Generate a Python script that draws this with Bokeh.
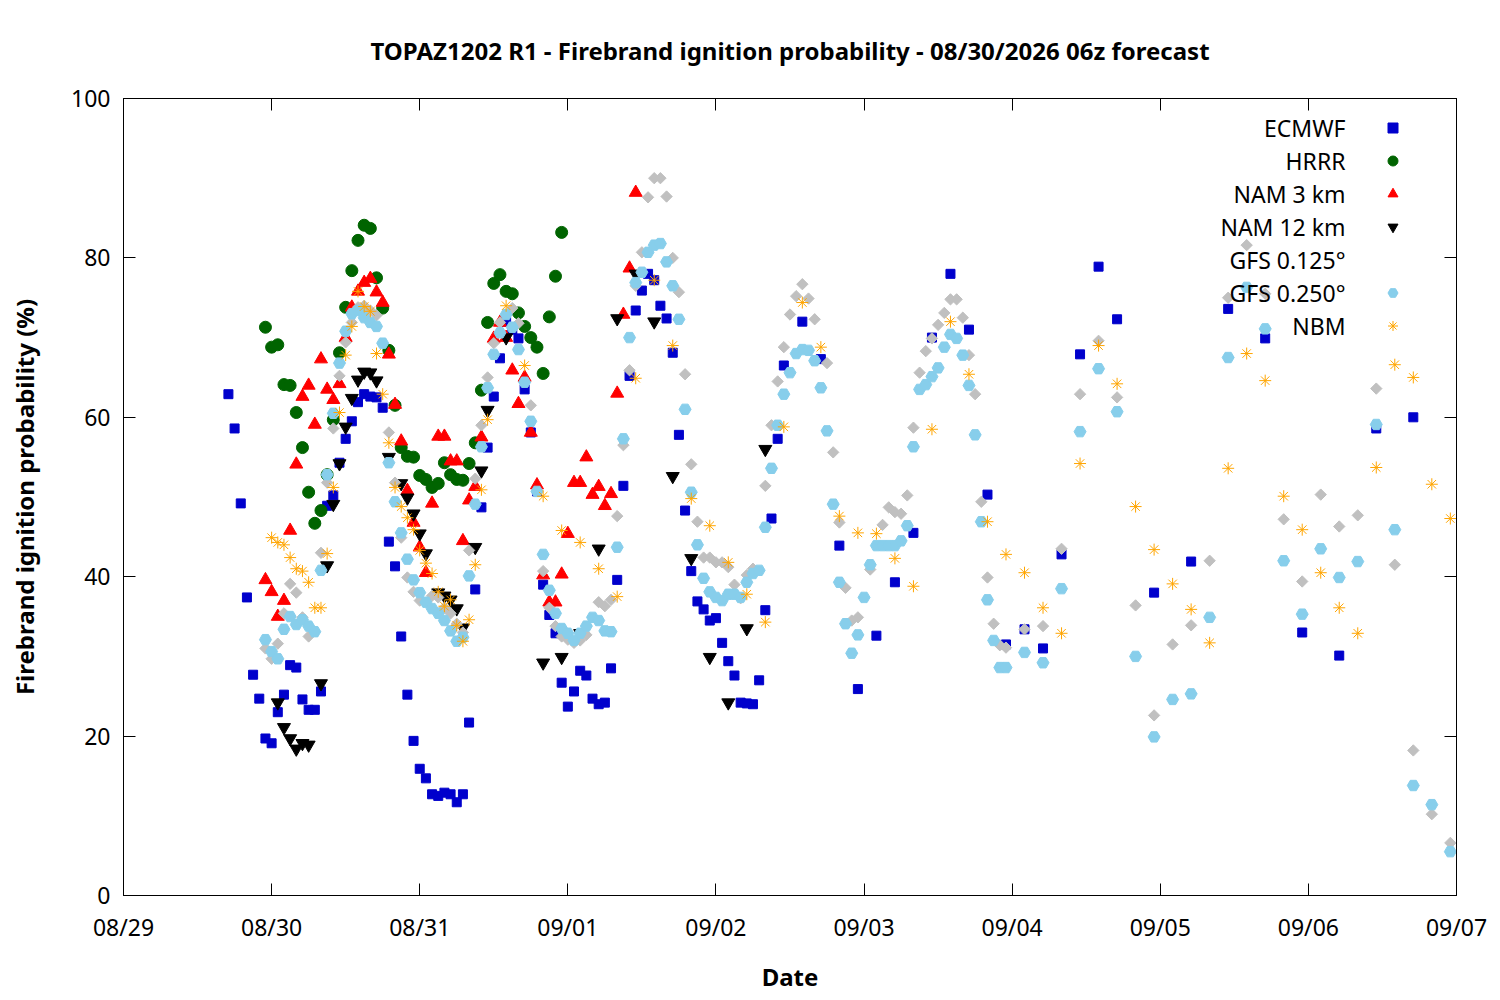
from datetime import datetime, timedelta
from math import pi

from bokeh.embed import file_html
from bokeh.models import (DatetimeAxis, DatetimeTickFormatter, FixedTicker,
                          Label, Legend, LegendItem, LinearAxis, Range1d)
from bokeh.plotting import figure
from bokeh.resources import INLINE

START = datetime(2026, 8, 29)
EPOCH = datetime(1970, 1, 1)
FONT = "Noto Sans"
TITLE = "TOPAZ1202 R1 - Firebrand ignition probability - 08/30/2026 06z forecast"

# all times are hours after 08/29 00z
ecmwf_hours = list(range(17, 108)) + list(range(110, 162, 3)) + list(range(167, 210, 6))
ecmwf = [62.9, 58.6, 49.2, 37.4, 27.7, 24.7, 19.7, 19.1, 23.0, 25.2,
         28.9, 28.6, 24.6, 23.3, 23.3, 25.6, 48.9, 50.2, 54.3, 57.3,
         59.5, 61.9, 62.9, 62.6, 62.5, 61.2, 44.4, 41.3, 32.5, 25.2,
         19.4, 15.9, 14.7, 12.7, 12.5, 12.9, 12.7, 11.7, 12.7, 21.7,
         38.4, 48.7, 56.2, 62.6, 67.4, 72.0, 71.0, 69.9, 63.5, 58.1,
         50.7, 39.0, 35.2, 32.9, 26.7, 23.7, 25.6, 28.2, 27.6, 24.7,
         24.0, 24.2, 28.5, 39.6, 51.4, 65.2, 73.4, 75.9, 78.0, 77.2,
         74.0, 72.4, 68.1, 57.8, 48.3, 40.7, 36.9, 35.9, 34.5, 34.8,
         31.7, 29.4, 27.6, 24.2, 24.1, 24.0, 27.0, 35.8, 47.3, 57.3,
         66.5,
         72.0, 67.3, 43.9, 25.9, 32.6, 39.3, 45.5, 70.0, 78.0, 71.0,
         50.3, 31.5, 33.4, 31.0, 42.8, 67.9, 78.9, 72.3,
         38.0, 41.9, 73.6, 69.9, 33.0, 30.1, 58.6, 60.0]

hrrr_hours = list(range(23, 72))
hrrr = [71.3, 68.8, 69.1, 64.1, 64.0, 60.6, 56.2, 50.6, 46.7, 48.3,
        52.8, 59.7, 68.1, 73.8, 78.4, 82.2, 84.1, 83.7, 77.5, 73.7,
        68.4, 61.5, 56.2, 55.1, 55.0, 52.7, 52.2, 51.2, 51.7, 54.3,
        52.8, 52.2, 52.1, 54.2, 56.8, 63.4, 71.9, 76.8, 77.9, 75.8,
        75.5, 73.1, 71.4, 70.0, 68.8, 65.5, 72.6, 77.7, 83.2]

nam3_hours = [h for h in range(23, 84) if h != 59]
nam3 = [39.6, 38.1, 35.0, 37.0, 45.8, 54.1, 62.6, 64.0, 59.1, 67.3,
        63.5, 62.2, 64.2, 70.0, 73.8, 75.8, 76.9, 77.4, 75.7, 74.4,
        67.9, 61.6, 57.0, 50.8, 46.8, 43.7, 40.5, 49.2, 57.6, 57.6,
        54.5, 54.5, 44.5, 49.6, 51.3, 57.5,
        69.9, 71.9, 70.0, 65.9, 61.7, 65.0, 58.1, 51.5, 40.2, 36.8,
        36.8, 40.3, 45.4, 51.8, 51.8, 55.0, 50.3, 51.3, 48.9, 50.4,
        63.0, 72.9, 78.7, 88.2]

nam12_hours = [25, 26, 27, 28, 29, 30, 32, 33, 34, 35, 36, 37, 38, 39, 40, 41,
               43, 45, 46, 47, 48, 49, 51, 52, 53, 54, 55, 57, 58, 59, 62,
               68, 71, 74, 77, 80, 83, 86, 89, 92, 95, 98, 101, 104]
nam12 = [24.2, 21.1, 19.7, 18.4, 19.1, 18.9, 26.6, 41.4, 49.1, 54.2,
         58.8, 62.4, 64.7, 65.7, 65.6, 64.6, 55.0, 51.7, 49.9, 47.9,
         45.4, 42.9, 38.0, 37.6, 37.1, 36.0, 33.6, 43.7, 53.3, 60.9,
         70.0, 29.2, 29.9, 32.9, 43.5, 72.4, 78.0, 72.0, 52.6, 42.3,
         29.9, 24.2, 33.5, 56.0]

gfs125_hidden = {31, 42, 49, 62, 65, 67, 76, 103, 113, 120, 122}
gfs125_hours = [h for h in range(23, 144) if h not in gfs125_hidden] + list(range(146, 216, 3))
gfs125 = [31.0, 29.7, 31.6, 35.4, 39.1, 38.0, 34.9, 32.5, 43.0, 51.8,
          58.6, 65.2, 69.4, 71.9, 73.8, 74.0, 73.4, 72.8, 58.1, 51.8,
          44.9, 39.9, 38.1, 37.0, 37.6, 37.4, 36.1, 35.4, 34.1, 33.0,
          43.3, 52.3, 59.0, 65.0, 69.3, 71.9, 73.7, 71.8, 61.5, 40.7,
          36.1, 33.8, 32.5, 32.1, 31.7, 32.0, 32.7, 36.8, 36.3, 37.1,
          47.6, 56.5, 65.9, 76.5, 80.7, 87.6, 90.0, 90.0, 87.7, 80.0,
          75.7, 65.4, 54.1, 46.9, 42.4, 42.4, 41.8, 41.8, 41.2, 39.0,
          37.3, 40.2, 41.0, 51.4, 59.0, 64.5, 68.8, 72.9, 75.2, 76.7,
          74.9, 72.3, 66.8, 55.6, 46.8, 38.6, 34.5, 34.9, 40.9, 46.5,
          48.7, 48.1, 47.9, 50.2, 58.7, 65.6, 68.3, 69.9, 71.6, 73.1,
          74.8, 74.8, 72.5, 67.8, 62.9, 49.4, 39.9, 34.1, 31.4, 31.1,
          33.4, 33.8, 43.5, 62.9, 69.6, 62.5, 36.4, 22.6, 31.5, 33.9,
          42.0, 75.0, 81.6, 75.5, 47.2, 39.4, 50.3, 46.3, 47.7, 63.6,
          41.5, 18.2, 10.2, 6.6]

gfs250_hours = list(range(23, 144)) + list(range(146, 216, 3))
gfs250 = [32.1, 30.6, 29.7, 33.4, 35.0, 34.0, 34.6, 33.8, 33.1, 40.8,
          52.8, 60.5, 66.8, 70.8, 73.0, 73.4, 72.5, 71.9, 71.4, 69.3,
          54.3, 49.4, 45.5, 42.2, 39.6, 38.0, 36.8, 36.0, 35.4, 34.5,
          33.2, 31.9, 32.4, 40.1, 49.1, 56.3, 63.7, 67.9, 70.6, 72.9,
          71.3, 68.5, 64.4, 59.5, 50.7, 42.8, 38.3, 35.4, 33.5, 32.9,
          32.0, 32.9, 33.8, 34.9, 34.5, 33.2, 33.1, 43.7, 57.3, 70.0,
          76.9, 78.2, 80.7, 81.6, 81.8, 79.5, 76.5, 72.3, 61.0, 50.6,
          44.0, 39.8, 38.1, 37.4, 37.0, 37.8, 37.8, 37.4, 39.3, 40.4,
          40.8, 46.2, 53.6, 59.0, 62.9, 65.6, 68.0, 68.5, 68.4, 67.1,
          63.7, 58.3, 49.1, 39.3, 34.1, 30.4, 32.7, 37.4, 41.5, 43.9,
          43.9, 43.9, 43.9, 44.5, 46.4, 56.3, 63.5, 64.1, 65.1, 66.2,
          68.8, 70.4, 69.9, 67.8, 64.0, 57.8, 46.9, 37.1, 32.0, 28.6,
          28.6,
          30.5, 29.2, 38.5, 58.2, 66.1, 60.7, 30.0, 19.9, 24.6, 25.3,
          34.9, 67.5, 76.3, 71.1, 42.0, 35.3, 43.5, 39.9, 41.9, 59.1,
          45.9, 13.8, 11.4, 5.5]

nbm_hours = list(range(24, 60)) + list(range(62, 216, 3))
nbm = [44.9, 44.3, 44.0, 42.4, 41.0, 40.7, 39.3, 36.1, 36.1, 42.9,
       51.2, 60.6, 67.8, 71.4, 75.8, 73.9, 73.3, 68.0, 62.9, 56.8,
       51.2, 48.8, 47.4, 45.9, 43.3, 41.7, 40.4, 38.1, 36.3, 37.1,
       33.9, 31.9, 34.6, 41.5, 50.9, 59.7,
       74.0, 66.5, 50.1, 45.8, 44.3, 41.0, 37.5, 64.9, 77.2, 69.0,
       49.8, 46.4, 41.8, 37.8, 34.3, 58.8, 74.4, 68.8, 47.6, 45.5,
       45.4, 42.3, 38.8, 58.5, 72.0, 65.4, 46.9, 42.8, 40.5, 36.1,
       32.9, 54.2, 69.0, 64.2, 48.8, 43.4, 39.1, 35.9, 31.7, 53.6,
       68.0, 64.6, 50.1, 45.9, 40.5, 36.1, 32.9, 53.7, 66.6, 65.0,
       51.6, 47.3]

model_names = ["ECMWF", "HRRR", "NAM 3 km", "NAM 12 km",
               "GFS 0.125°", "GFS 0.250°", "NBM"]
n_days = 10


def when(hours):
    return [START + timedelta(hours=h) for h in hours]


p = figure(width=1491, height=996, x_axis_type="datetime",
           x_range=Range1d(START, START + timedelta(days=9)),
           y_range=Range1d(0, 100),
           output_backend="svg", toolbar_location=None,
           min_border_left=123, min_border_right=35,
           min_border_top=98, min_border_bottom=101)

p.title.text = TITLE
p.title.align = "center"
p.title.text_font = FONT
p.title.text_font_size = "24px"
p.title.text_font_style = "bold"
p.title.text_color = "black"
p.title.standoff = 63

p.grid.visible = False
p.outline_line_color = "black"
p.outline_line_width = 1

day_ticks = [(START + timedelta(days=d) - EPOCH).total_seconds() * 1000
             for d in range(n_days)]
x_ticker = FixedTicker(ticks=day_ticks)
y_ticker = FixedTicker(ticks=[0, 20, 40, 60, 80, 100])
fmt = DatetimeTickFormatter(days="%m/%d", months="%m/%d", hours="%m/%d",
                            years="%m/%d")

bottom = p.below[0]
left = p.left[0]
bottom.ticker = x_ticker
bottom.formatter = fmt
left.ticker = y_ticker
bottom.axis_label = "Date"
left.axis_label = "Firebrand ignition probability (%)"

# mirrored tick marks on top and right, without labels
top = DatetimeAxis(ticker=x_ticker, formatter=fmt)
right = LinearAxis(ticker=y_ticker)
p.add_layout(top, "above")
p.add_layout(right, "right")

for ax in (bottom, left, top, right):
    ax.major_tick_in = 12
    ax.major_tick_out = 0
    ax.minor_tick_line_color = None
    ax.axis_line_color = "black"
    ax.major_tick_line_color = "black"
    ax.major_label_text_font = FONT
    ax.major_label_text_font_size = "23px"
    ax.major_label_text_color = "black"
    ax.axis_label_text_font = FONT
    ax.axis_label_text_font_size = "24px"
    ax.axis_label_text_font_style = "bold"
    ax.axis_label_text_color = "black"

for ax in (top, right):
    ax.major_label_text_color = None
    ax.major_label_text_font_size = "1px"
    ax.major_label_standoff = 0

bottom.major_label_standoff = 15
bottom.axis_label_standoff = 14
left.major_label_standoff = 13
left.axis_label_standoff = 27

series = [
    (ecmwf_hours, ecmwf, "square", 9, "#0000cc", 0),
    (hrrr_hours, hrrr, "circle", 12, "#006400", 0),
    (nam3_hours, nam3, "triangle", 13, "#ff0000", 0),
    (nam12_hours, nam12, "inverted_triangle", 13, "#000000", 0),
    (gfs125_hours, gfs125, "square", 8, "#c0c0c0", pi / 4),
    (gfs250_hours, gfs250, "hex", 12, "#87ceeb", 0),
    (nbm_hours, nbm, "asterisk", 12, "#ffa500", 0),
]

renderers = []
for hours, vals, marker, size, color, angle in series:
    r = p.scatter(when(hours), vals, marker=marker, size=size,
                  fill_color=color, line_color=color, line_width=1,
                  angle=angle)
    renderers.append(r)

# legend keys ignore marker rotation, so the GFS 0.125 key uses a diamond
gfs125_key = p.scatter(x=[], y=[], marker="diamond", size=12,
                       fill_color="#c0c0c0", line_color="#c0c0c0")
key_renderers = renderers[:4] + [gfs125_key] + renderers[5:]

legend = Legend(items=[LegendItem(label=" ", renderers=[r]) for r in key_renderers],
                location=(1257, 557), glyph_width=25, glyph_height=25,
                spacing=8, padding=0, margin=0, label_standoff=0,
                label_width=0, label_height=0, label_text_font_size="1px",
                border_line_alpha=0, background_fill_alpha=0)
p.add_layout(legend)

for i, name in enumerate(model_names):
    p.add_layout(Label(x=1222, y=895 - (127.5 + 33 * i),
                       x_units="screen", y_units="screen", text=name,
                       text_align="right", text_baseline="middle",
                       text_font=FONT, text_font_size="23px",
                       text_color="black"))

open("out.html", "w").write(file_html(p, INLINE))
